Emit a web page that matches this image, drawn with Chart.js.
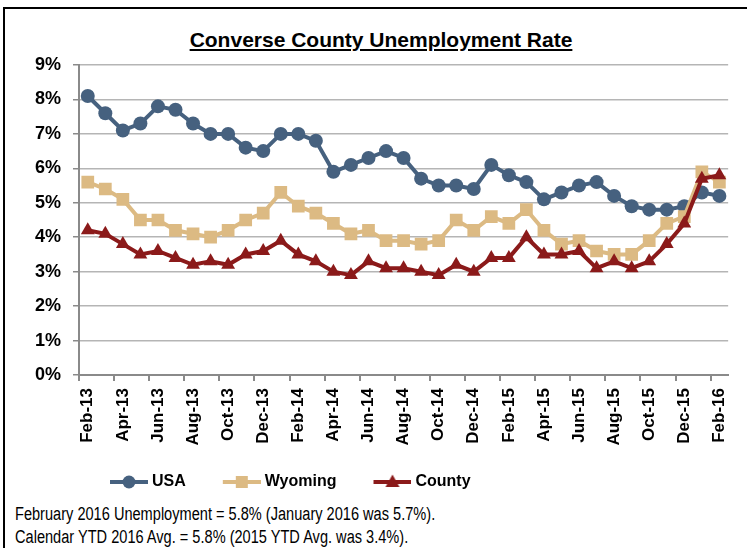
<!DOCTYPE html>
<html>
<head>
<meta charset="utf-8">
<script src="https://cdn.jsdelivr.net/npm/chart.js@4.4.0/dist/chart.umd.min.js"></script>
<style>
  body { margin: 0; background: #fff; width: 747px; height: 548px; overflow: hidden; position: relative; }
  #frame { position: absolute; left: 3px; top: 7px; width: 900px; height: 700px; border-left: 2px solid #000; border-top: 2px solid #000; }
  #title { position: absolute; left: 0; top: 28px; width: 762px; text-align: center; font: bold 21px/24px "Liberation Sans", Arial, sans-serif; text-decoration: underline; text-underline-offset: 2px; }
  #wrap { position: absolute; left: 0; top: 0; width: 747px; height: 500px; }
  #note { position: absolute; left: 15px; top: 503px; font: 18px/23px "Liberation Sans", Arial, sans-serif; color: #000; white-space: nowrap; transform: scaleX(0.81); transform-origin: 0 0; }
</style>
</head>
<body>
<div id="frame"></div>
<div id="title">Converse County Unemployment Rate</div>
<div id="wrap"><canvas id="chart" width="747" height="500"></canvas></div>
<div id="note">February 2016 Unemployment = 5.8% (January 2016 was 5.7%).<br>Calendar YTD 2016 Avg. = 5.8% (2015 YTD Avg. was 3.4%).</div>
<script>
// Mois Feb-13 .. Feb-16
const months = [
  'Feb-13', 'Mar-13', 'Apr-13', 'May-13', 'Jun-13', 'Jul-13', 'Aug-13', 'Sep-13', 'Oct-13', 'Nov-13', 'Dec-13',
  'Jan-14', 'Feb-14', 'Mar-14', 'Apr-14', 'May-14', 'Jun-14', 'Jul-14', 'Aug-14', 'Sep-14', 'Oct-14', 'Nov-14', 'Dec-14',
  'Jan-15', 'Feb-15', 'Mar-15', 'Apr-15', 'May-15', 'Jun-15', 'Jul-15', 'Aug-15', 'Sep-15', 'Oct-15', 'Nov-15', 'Dec-15',
  'Jan-16', 'Feb-16'
];
const usa = [8.1, 7.6, 7.1, 7.3, 7.8, 7.7, 7.3, 7.0, 7.0, 6.6, 6.5,
  7.0, 7.0, 6.8, 5.9, 6.1, 6.3, 6.5, 6.3, 5.7, 5.5, 5.5, 5.4,
  6.1, 5.8, 5.6, 5.1, 5.3, 5.5, 5.6, 5.2, 4.9, 4.8, 4.8, 4.9,
  5.3, 5.2];
const wyoming = [5.6, 5.4, 5.1, 4.5, 4.5, 4.2, 4.1, 4.0, 4.2, 4.5, 4.7,
  5.3, 4.9, 4.7, 4.4, 4.1, 4.2, 3.9, 3.9, 3.8, 3.9, 4.5, 4.2,
  4.6, 4.4, 4.8, 4.2, 3.8, 3.9, 3.6, 3.5, 3.5, 3.9, 4.4, 4.6,
  5.9, 5.6];
const county = [4.2, 4.1, 3.8, 3.5, 3.6, 3.4, 3.2, 3.3, 3.2, 3.5, 3.6,
  3.9, 3.5, 3.3, 3.0, 2.9, 3.3, 3.1, 3.1, 3.0, 2.9, 3.2, 3.0,
  3.4, 3.4, 4.0, 3.5, 3.5, 3.6, 3.1, 3.3, 3.1, 3.3, 3.8, 4.4,
  5.7, 5.8];
const yTicks = [0, 1, 2, 3, 4, 5, 6, 7, 8, 9];

const BLUE = '#46617f';
const TAN = '#dcba83';
const RED = '#8b1a1a';

// icone ligne + marqueur, calee a droite du canvas (le texte suit juste apres)
function legendIcon(color, shape) {
  const c = document.createElement('canvas');
  c.width = 70; c.height = 18;
  const g = c.getContext('2d');
  const x0 = 32, cx = 51;
  g.strokeStyle = color; g.fillStyle = color; g.lineWidth = 4;
  g.beginPath(); g.moveTo(x0, 9); g.lineTo(70, 9); g.stroke();
  g.beginPath();
  if (shape === 'circle') g.arc(cx, 9, 6.5, 0, Math.PI * 2);
  if (shape === 'rect') g.rect(cx - 6, 3, 12, 12);
  if (shape === 'triangle') { g.moveTo(cx, 1.5); g.lineTo(cx + 7, 14); g.lineTo(cx - 7, 14); g.closePath(); }
  g.fill();
  return c;
}
const icons = [legendIcon(BLUE, 'circle'), legendIcon(TAN, 'rect'), legendIcon(RED, 'triangle')];

const ctx = document.getElementById('chart').getContext('2d');
const chart = new Chart(ctx, {
  type: 'line',
  data: {
    labels: months,
    datasets: [
      { label: 'USA', data: usa, borderColor: BLUE, backgroundColor: BLUE, borderWidth: 4,
        pointStyle: 'circle', pointRadius: 7, pointBorderWidth: 0, order: 2 },
      { label: 'Wyoming', data: wyoming, borderColor: TAN, backgroundColor: TAN, borderWidth: 4,
        pointStyle: 'rect', pointRadius: 9, pointBorderWidth: 0, order: 1 },
      { label: 'County', data: county, borderColor: RED, backgroundColor: RED, borderWidth: 4,
        pointStyle: 'triangle', pointRadius: 8, pointBorderWidth: 0, order: 0 }
    ]
  },
  options: {
    responsive: false,
    animation: false,
    layout: { padding: { top: 65, left: 73, right: 16, bottom: 0 } },
    elements: { line: { tension: 0 } },
    scales: {
      x: {
        offset: true,
        afterFit: s => { s.height = 90; },
        border: { color: '#8a8a8a', width: 2 },
        grid: {
          offset: true, drawOnChartArea: false, tickLength: 6, lineWidth: 2,
          tickColor: c => (c.index % 2 === 0 ? '#8a8a8a' : 'rgba(0,0,0,0)')
        },
        ticks: {
          autoSkip: false, maxRotation: 90, minRotation: 90, padding: 7, color: '#000',
          font: { family: '"Liberation Sans", Arial', weight: 'bold', size: 17 },
          callback: (v, i) => (i % 2 === 0 ? months[i] : '')
        }
      },
      y: {
        min: 0, max: 9,
        afterFit: s => { s.width = 6; },
        afterBuildTicks: s => { s.ticks = yTicks.map(v => ({ value: v })); },
        border: { color: '#8a8a8a', width: 2 },
        grid: { color: '#b5b5b5', lineWidth: 1.5, tickLength: 6, tickColor: '#8a8a8a' },
        ticks: {
          mirror: true, padding: -44, color: '#000',
          font: { family: '"Liberation Sans", Arial', weight: 'bold', size: 18 },
          callback: v => v + '%'
        }
      }
    },
    plugins: {
      title: { display: false },
      tooltip: { enabled: false },
      legend: {
        position: 'bottom',
        align: 'start',
        labels: {
          usePointStyle: true,
          pointStyleWidth: 62,
          padding: 9,
          color: '#000',
          font: { family: '"Liberation Sans", Arial', weight: 'bold', size: 16 },
          sort: (a, b) => a.datasetIndex - b.datasetIndex,
          generateLabels: chart => {
            const items = Chart.defaults.plugins.legend.labels.generateLabels(chart);
            items.forEach(it => { it.pointStyle = icons[it.datasetIndex]; });
            return items;
          }
        }
      }
    }
  }
});
</script>
</body>
</html>
